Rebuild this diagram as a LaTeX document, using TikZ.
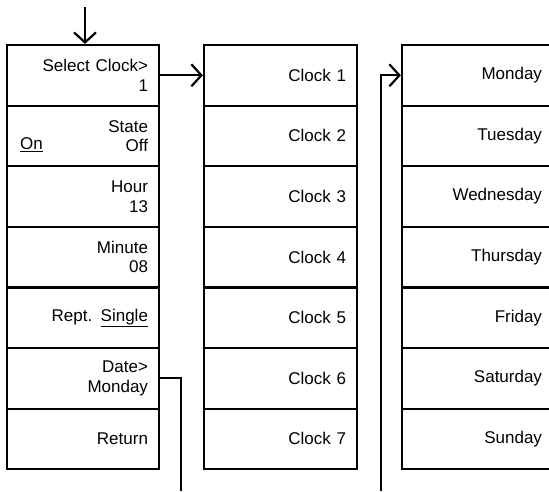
\documentclass[tikz,border=0pt]{standalone}
\usepackage{fontspec}
\setmainfont{Liberation Sans}
\usetikzlibrary{arrows.meta}
\tikzset{
  cell/.style={draw, line width=2.2pt, rectangle, minimum height=60.6pt,
    inner xsep=11pt, inner ysep=0pt, align=right, text width=#1,
    font=\fontsize{17}{19.5}\selectfont},
  link/.style={line width=2.2pt},
  >={Straight Barb[length=10pt,width=22pt,line width=2.2pt]}
}
\begin{document}
\begin{tikzpicture}[x=1pt,y=-1pt]
        \useasboundingbox (0,0) rectangle (549,491);
        \clip (0,0) rectangle (549,491);
        % menu
        \node[cell=130pt] (L1) at (83,75.3) {Select Clock>\\1};
        \node[cell=130pt] (L2) at (83,135.9) {State\\Off};
        \node[cell=130pt] (L3) at (83,196.5) {Hour\\13};
        \node[cell=130pt] (L4) at (83,257.1) {Minute\\08};
        \node[cell=130pt] (L5) at (83,317.7) {Rept. \underline{Single}};
        \node[cell=130pt] (L6) at (83,378.3) {Date>\\Monday};
        \node[cell=130pt] (L7) at (83,438.9) {Return};
        \node[font=\fontsize{17}{19.5}\selectfont, inner sep=0pt, anchor=west] (on) at (20,145) {\underline{On}};
        % clocks
        \node[cell=131pt] (M1) at (280.5,75.3) {Clock 1};
        \node[cell=131pt] (M2) at (280.5,135.9) {Clock 2};
        \node[cell=131pt] (M3) at (280.5,196.5) {Clock 3};
        \node[cell=131pt] (M4) at (280.5,257.1) {Clock 4};
        \node[cell=131pt] (M5) at (280.5,317.7) {Clock 5};
        \node[cell=131pt] (M6) at (280.5,378.3) {Clock 6};
        \node[cell=131pt] (M7) at (280.5,438.9) {Clock 7};
        % days
        \node[cell=129pt] (R1) at (477.5,75.3) {Monday};
        \node[cell=129pt] (R2) at (477.5,135.9) {Tuesday};
        \node[cell=129pt] (R3) at (477.5,196.5) {Wednesday};
        \node[cell=129pt] (R4) at (477.5,257.1) {Thursday};
        \node[cell=129pt] (R5) at (477.5,317.7) {Friday};
        \node[cell=129pt] (R6) at (477.5,378.3) {Saturday};
        \node[cell=129pt] (R7) at (477.5,438.9) {Sunday};
        \coordinate (entry) at (85,7);
        \coordinate (dateend) at (181,491);
        \coordinate (daystart) at (381,491);
        \draw[link,->] (entry) -- (entry |- L1.north);
        \draw[link,->] (L1.east) -- (M1.west);
        \draw[link] (L6.east) -| (dateend);
        \draw[link,->] (daystart) |- (R1.west);
    \end{tikzpicture}
\end{document}
